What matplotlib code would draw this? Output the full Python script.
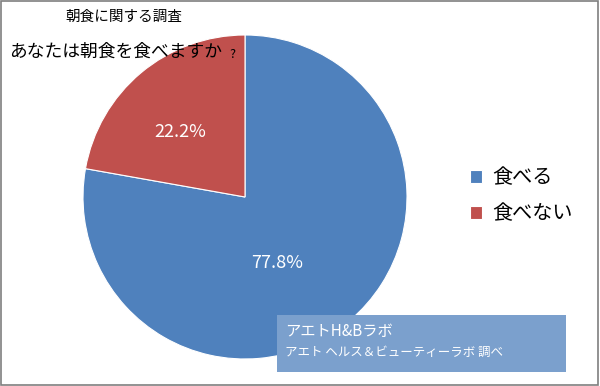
import matplotlib
matplotlib.use('Agg')
import matplotlib.pyplot as plt
from matplotlib.patches import Rectangle

plt.rcParams['font.family'] = ['Noto Sans CJK JP', 'DejaVu Sans']

# data
labels = ['食べる', '食べない']
values = [77.8, 22.2]
colors = ['#4F81BD', '#C0504D']

fig = plt.figure(figsize=(6, 3.86), dpi=100)
fig.patch.set_facecolor('white')
# outer grey frame
fig.add_artist(Rectangle((0.002, 0.003), 0.995, 0.994, transform=fig.transFigure,
                         fill=False, edgecolor='#7f7f7f', linewidth=1.2))

ax = fig.add_axes([83 / 600, 27 / 386, 324 / 600, 324 / 386])
wedges, texts, autotexts = ax.pie(values, colors=colors, startangle=90, counterclock=False,
                                  autopct='%.1f%%', radius=1,
                                  wedgeprops=dict(edgecolor='white', linewidth=0.8),
                                  textprops=dict(color='white', fontsize=13))
ax.set_xlim(-1, 1)
ax.set_ylim(-1, 1)
ax.set_aspect('equal')
# label placement like the reference
autotexts[0].set_position((0.20, -0.41))
autotexts[1].set_position((-0.40, 0.40))

ax.legend(wedges, labels, loc='center left', bbox_to_anchor=(452 / 600, 1 - 196 / 386),
          bbox_transform=fig.transFigure, frameon=False, fontsize=14.5,
          handlelength=0.6, handleheight=0.6, handletextpad=0.5, labelspacing=0.75)

fig.text(124 / 600, 1 - 17 / 386, '朝食に関する調査', ha='center', va='center', fontsize=10.5)
fig.text(9 / 600, 1 - 52 / 386, 'あなたは朝食を食べますか', ha='left', va='center', fontsize=12.8)
fig.text(229 / 600, 1 - 54 / 386, '?', ha='left', va='center', fontsize=9)

# source box
fig.add_artist(Rectangle((277 / 600, 1 - 372 / 386), 289 / 600, 57 / 386,
                         transform=fig.transFigure, facecolor='#7BA0CD', edgecolor='none'))
fig.text(285 / 600, 1 - 331 / 386, 'アエトH&Bラボ', color='white', fontsize=11, va='center')
fig.text(285 / 600, 1 - 352 / 386, 'アエト ヘルス＆ビューティーラボ 調べ', color='white',
         fontsize=9, va='center')

fig.savefig('out.png', dpi=100, facecolor='white')
